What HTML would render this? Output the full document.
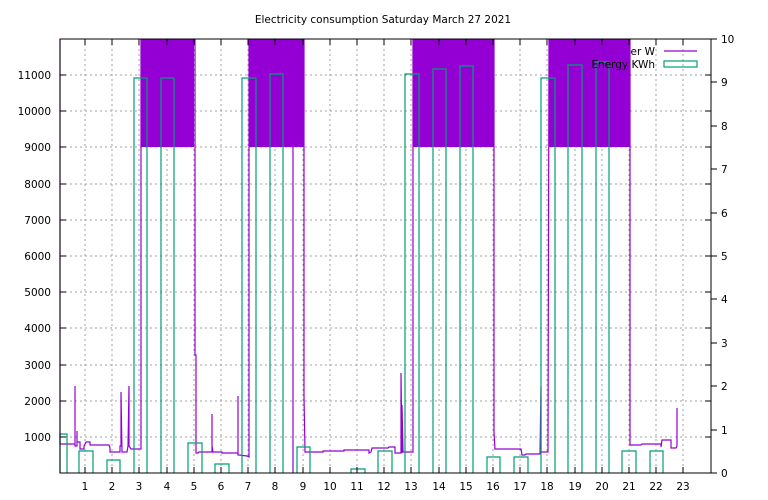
<!DOCTYPE html>
<html><head><meta charset="utf-8"><style>
html,body{margin:0;padding:0;background:#fff}
svg{display:block;font-family:"DejaVu Sans","Liberation Sans",sans-serif}
</style></head><body>
<svg width="768" height="500" viewBox="0 0 768 500" xmlns="http://www.w3.org/2000/svg">
<rect width="768" height="500" fill="#fff"/>
<text x="383" y="23" font-size="10.5" text-anchor="middle">Electricity consumption Saturday March 27 2021</text>
<g stroke="#a0a0a0" stroke-width="1" stroke-dasharray="2,3">
<line x1="60" x2="711" y1="437" y2="437"/><line x1="60" x2="711" y1="401" y2="401"/>
<line x1="60" x2="711" y1="365" y2="365"/><line x1="60" x2="711" y1="328" y2="328"/>
<line x1="60" x2="711" y1="292" y2="292"/><line x1="60" x2="711" y1="256" y2="256"/>
<line x1="60" x2="711" y1="220" y2="220"/><line x1="60" x2="711" y1="184" y2="184"/>
<line x1="60" x2="711" y1="147" y2="147"/><line x1="60" x2="711" y1="111" y2="111"/>
<line x1="60" x2="711" y1="75" y2="75"/>
<line x1="85" x2="85" y1="39" y2="473"/><line x1="112" x2="112" y1="39" y2="473"/>
<line x1="139" x2="139" y1="39" y2="473"/><line x1="167" x2="167" y1="39" y2="473"/>
<line x1="194" x2="194" y1="39" y2="473"/><line x1="221" x2="221" y1="39" y2="473"/>
<line x1="248" x2="248" y1="39" y2="473"/><line x1="275" x2="275" y1="39" y2="473"/>
<line x1="303" x2="303" y1="39" y2="473"/><line x1="330" x2="330" y1="39" y2="473"/>
<line x1="357" x2="357" y1="39" y2="473"/><line x1="384" x2="384" y1="39" y2="473"/>
<line x1="411" x2="411" y1="39" y2="473"/><line x1="439" x2="439" y1="39" y2="473"/>
<line x1="466" x2="466" y1="39" y2="473"/><line x1="493" x2="493" y1="39" y2="473"/>
<line x1="520" x2="520" y1="39" y2="473"/><line x1="547" x2="547" y1="39" y2="473"/>
<line x1="575" x2="575" y1="39" y2="473"/><line x1="602" x2="602" y1="39" y2="473"/>
<line x1="629" x2="629" y1="39" y2="473"/><line x1="656" x2="656" y1="39" y2="473"/>
<line x1="683" x2="683" y1="39" y2="473"/>
</g>
<g font-size="10.5" text-anchor="end">
<text x="655" y="55">Power W</text>
</g>
<g fill="#9400d3">
<rect x="141" y="39" width="53" height="108"/>
<rect x="249" y="39" width="55" height="108"/>
<rect x="413" y="39" width="81" height="108"/>
<rect x="549" y="39" width="81" height="108"/>
</g>
<g stroke="#9400d3" stroke-width="1.2" fill="none">
<polyline points="60,39 60,444 75,444 75,386 75,446 77,446 77,431 77,442 80,442 80,449 84,449 84,446 86,442 90,442 90,445 109,445 110,448 110,452 120,452 120,446 121,446 121,392 122,452 127,452 128,446 129,386 129,446 131,449 141,449 141,39"/>
<polyline points="195,39 195,355 196,355 196,453 198,453 199,452 212,452 212,414 212,446 213,452 222,452 222,453 238,453 238,396 238,455 239,455 247,456 249,457 249,39"/>
<line x1="293" y1="147" x2="293" y2="473"/>
<polyline points="304,39 304,396 305,452 323,452 323,451 344,451 344,450 369,450 369,453 371,452 372,448 388,448 389,447 395,447 395,453 401,453 401,373 402,453 402,405 403,452 413,452 413,39"/>
<polyline points="494,39 494,432 495,449 521,449 522,455 525,455 526,454 540,454 541,386 541,452 548,452 549,39"/>
<polyline points="630,39 630,445 641,445 642,444 661,444 661,447 662,440 671,440 671,448 676,448 677,446 677,408"/>
</g>
<g stroke="#009e73" stroke-width="1.2" fill="none">
<polyline points="60,473 60,434 67,434 67,473"/>
<polyline points="79,473 79,451 93,451 93,473"/>
<polyline points="107,473 107,460 120,460 120,473"/>
<polyline points="134,473 134,78 147,78 147,473"/>
<polyline points="161,473 161,78 174,78 174,473"/>
<polyline points="188,473 188,443 202,443 202,473"/>
<polyline points="215,473 215,464 229,464 229,473"/>
<polyline points="242,473 242,78 256,78 256,473"/>
<polyline points="270,473 270,74 283,74 283,473"/>
<polyline points="297,473 297,447 310,447 310,473"/>
<polyline points="351,473 351,469 365,469 365,473"/>
<polyline points="378,473 378,451 392,451 392,473"/>
<polyline points="405,473 405,74 419,74 419,473"/>
<polyline points="433,473 433,69 446,69 446,473"/>
<polyline points="460,473 460,66 473,66 473,473"/>
<polyline points="487,473 487,457 500,457 500,473"/>
<polyline points="514,473 514,457 528,457 528,473"/>
<polyline points="541,473 541,78 555,78 555,473"/>
<polyline points="568,473 568,65 582,65 582,473"/>
<polyline points="596,473 596,62 609,62 609,473"/>
<polyline points="622,473 622,451 636,451 636,473"/>
<polyline points="650,473 650,451 663,451 663,473"/>
</g>
<rect x="60" y="39" width="651" height="434" fill="none" stroke="#000" stroke-width="1"/>
<g stroke="#000" stroke-width="1">
<path d="M60 437h6M60 401h6M60 365h6M60 328h6M60 292h6M60 256h6M60 220h6M60 184h6M60 147h6M60 111h6M60 75h6"/>
<path d="M711 437h-6M711 401h-6M711 365h-6M711 328h-6M711 292h-6M711 256h-6M711 220h-6M711 184h-6M711 147h-6M711 111h-6M711 75h-6"/>
<path d="M711 473h6M711 430h6M711 386h6M711 343h6M711 299h6M711 256h6M711 213h6M711 169h6M711 126h6M711 82h6M711 39h6"/>
<path d="M85 473v-6M112 473v-6M139 473v-6M167 473v-6M194 473v-6M221 473v-6M248 473v-6M275 473v-6M303 473v-6M330 473v-6M357 473v-6M384 473v-6M411 473v-6M439 473v-6M466 473v-6M493 473v-6M520 473v-6M547 473v-6M575 473v-6M602 473v-6M629 473v-6M656 473v-6M683 473v-6"/>
<path d="M85 39v6M112 39v6M139 39v6M167 39v6M194 39v6M221 39v6M248 39v6M275 39v6M303 39v6M330 39v6M357 39v6M384 39v6M411 39v6M439 39v6M466 39v6M493 39v6M520 39v6M547 39v6M575 39v6M602 39v6M629 39v6M656 39v6M683 39v6"/>
</g>
<g font-size="10.5" text-anchor="end">
<text x="51" y="441">1000</text><text x="51" y="405">2000</text><text x="51" y="369">3000</text>
<text x="51" y="332">4000</text><text x="51" y="296">5000</text><text x="51" y="260">6000</text>
<text x="51" y="224">7000</text><text x="51" y="188">8000</text><text x="51" y="151">9000</text>
<text x="51" y="115">10000</text><text x="51" y="79">11000</text>
</g>
<g font-size="10.5" text-anchor="start">
<text x="721" y="477">0</text><text x="721" y="434">1</text><text x="721" y="390">2</text>
<text x="721" y="347">3</text><text x="721" y="303">4</text><text x="721" y="260">5</text>
<text x="721" y="217">6</text><text x="721" y="173">7</text><text x="721" y="130">8</text>
<text x="721" y="86">9</text><text x="721" y="43">10</text>
</g>
<g font-size="10.5" text-anchor="middle">
<text x="85" y="490">1</text><text x="112" y="490">2</text><text x="139" y="490">3</text>
<text x="167" y="490">4</text><text x="194" y="490">5</text><text x="221" y="490">6</text>
<text x="248" y="490">7</text><text x="275" y="490">8</text><text x="303" y="490">9</text>
<text x="330" y="490">10</text><text x="357" y="490">11</text><text x="384" y="490">12</text>
<text x="411" y="490">13</text><text x="439" y="490">14</text><text x="466" y="490">15</text>
<text x="493" y="490">16</text><text x="520" y="490">17</text><text x="547" y="490">18</text>
<text x="575" y="490">19</text><text x="602" y="490">20</text><text x="629" y="490">21</text>
<text x="656" y="490">22</text><text x="683" y="490">23</text>
</g>
<text x="655" y="68" font-size="10.5" text-anchor="end">Energy KWh</text>
<line x1="664" y1="51" x2="697" y2="51" stroke="#9400d3" stroke-width="1.2"/>
<rect x="664" y="61" width="33" height="6" fill="none" stroke="#009e73" stroke-width="1.2"/>
</svg>
</body></html>
